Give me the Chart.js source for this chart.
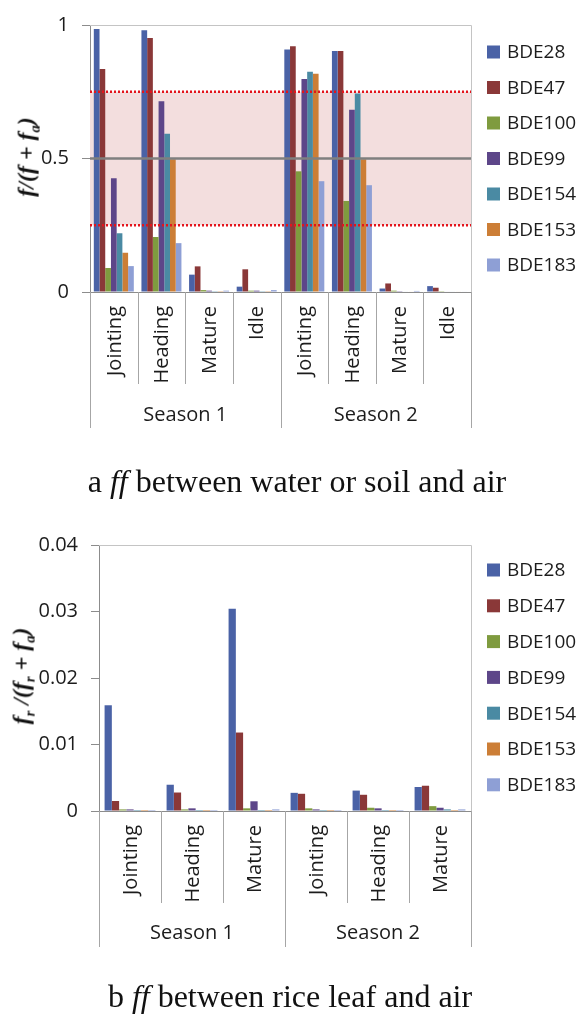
<!DOCTYPE html>
<html>
<head>
<meta charset="utf-8">
<script src="https://cdn.jsdelivr.net/npm/chart.js@4/dist/chart.umd.min.js"></script>
<style>
    body { margin: 0; width: 580px; height: 1014px; position: relative; background: #fff; overflow: hidden; }
    canvas { position: absolute; left: 0; }
    .caption { position: absolute; left: 0; width: 580px; text-align: center; font-family: "Liberation Serif", serif; font-size: 32px; line-height: 1; color: #111; }
    .ytitle { position: absolute; white-space: nowrap; font-family: "Liberation Serif", serif; font-weight: bold; font-style: italic; font-size: 24px; color: #111; transform: translate(-50%, -50%) rotate(-90deg); }
    .ytitle sub { font-size: 0.6em; }
</style>
</head>
<body>
<canvas id="chartA" width="580" height="470" style="top:0"></canvas>
<canvas id="chartB" width="580" height="494" style="top:520px"></canvas>

<div class="ytitle" style="left:28px; top:157px">f/(f + f<sub>a</sub>)</div>
<div class="ytitle" style="left:23px; top:676px">f<sub>r</sub> /(f<sub>r</sub> + f<sub>a</sub>)</div>

<div class="caption" style="top:465px; padding-left:14px; box-sizing:border-box">a <i>ff</i> between water or soil and air</div>
<div class="caption" style="top:980px">b <i>ff</i> between rice leaf and air</div>

<script>
// Categories
const seasons = ['Season 1', 'Season 2'];
const stagesA = ['Jointing', 'Heading', 'Mature', 'Idle', 'Jointing', 'Heading', 'Mature', 'Idle'];
const stagesB = ['Jointing', 'Heading', 'Mature', 'Jointing', 'Heading', 'Mature'];
const congeners = ['BDE28', 'BDE47', 'BDE100', 'BDE99', 'BDE154', 'BDE153', 'BDE183'];
const colors = ['#4a62a6', '#8a3838', '#7f9b3f', '#5d4689', '#4a8aa3', '#cc7e36', '#8e9fd5'];

// a: ff between water or soil and air
const bde28A  = [0.985, 0.980, 0.065, 0.020, 0.908, 0.903, 0.013, 0.022];
const bde47A  = [0.835, 0.951, 0.096, 0.085, 0.920, 0.903, 0.032, 0.016];
const bde100A = [0.090, 0.206, 0.007, 0.005, 0.452, 0.341, 0.005, 0.003];
const bde99A  = [0.426, 0.714, 0.005, 0.005, 0.798, 0.683, 0.003, 0.002];
const bde154A = [0.220, 0.593, 0.003, 0.003, 0.825, 0.743, 0.002, 0.002];
const bde153A = [0.147, 0.497, 0.003, 0.003, 0.817, 0.497, 0.002, 0.002];
const bde183A = [0.097, 0.183, 0.005, 0.007, 0.415, 0.400, 0.004, 0.002];

// b: ff between rice leaf and air
const bde28B  = [0.0159, 0.00395, 0.0304, 0.00273, 0.00307, 0.00361];
const bde47B  = [0.0015, 0.00278, 0.0118, 0.00259, 0.00244, 0.0038];
const bde100B = [0.00024, 0.00024, 0.0004, 0.0004, 0.00049, 0.00073];
const bde99B  = [0.00024, 0.0004, 0.00146, 0.00024, 0.0004, 0.00049];
const bde154B = [0.00015, 0.00015, 0.00015, 0.00015, 0.00015, 0.00024];
const bde153B = [0.00015, 0.00015, 0.00015, 0.00015, 0.00015, 0.00015];
const bde183B = [0.00015, 0.00015, 0.00024, 0.00015, 0.00015, 0.00024];

// y ticks
const ticksA = { max: 1, step: 0.5 };
const ticksB = { max: 0.04, step: 0.01 };

// reference band for chart a
const bandLow = 0.25;
const bandHigh = 0.75;
const midLine = 0.5;

const FONT = '"Open Sans", sans-serif';
const TEXT = '#1c1c1c';

// Pink band + dotted limits + mid line (chart a only)
const bandPlugin = {
    id: 'band',
    beforeDatasetsDraw(chart, args, opts) {
        if (!opts.show) return;
        const { ctx, chartArea } = chart;
        const y = chart.scales.y;
        ctx.save();
        ctx.fillStyle = '#f3dede';
        ctx.fillRect(chartArea.left, y.getPixelForValue(bandHigh), chartArea.right - chartArea.left,
            y.getPixelForValue(bandLow) - y.getPixelForValue(bandHigh));
        ctx.restore();
    },
    afterDatasetsDraw(chart, args, opts) {
        if (!opts.show) return;
        const { ctx, chartArea } = chart;
        const y = chart.scales.y;
        ctx.save();
        ctx.strokeStyle = '#e3141c';
        ctx.lineWidth = 2.5;
        ctx.setLineDash([2, 2]);
        [bandLow, bandHigh].forEach(v => {
            const py = y.getPixelForValue(v);
            ctx.beginPath();
            ctx.moveTo(chartArea.left, py);
            ctx.lineTo(chartArea.right, py);
            ctx.stroke();
        });
        ctx.setLineDash([]);
        ctx.strokeStyle = '#7f7f7f';
        const pm = y.getPixelForValue(midLine);
        ctx.beginPath();
        ctx.moveTo(chartArea.left, pm);
        ctx.lineTo(chartArea.right, pm);
        ctx.stroke();
        ctx.restore();
    }
};

// Two-level category axis, plot frame and legend
const frameplugin = {
    id: 'frame',
    afterDraw(chart, args, opts) {
        const { ctx, chartArea } = chart;
        const x = chart.scales.x;
        const labels = chart.data.labels;
        const n = labels.length;
        const half = (x.getPixelForValue(1) - x.getPixelForValue(0)) / 2;
        const bottom = chartArea.bottom;
        ctx.save();

        // frame top + right
        ctx.strokeStyle = '#c4c4c4';
        ctx.lineWidth = 1;
        ctx.beginPath();
        ctx.moveTo(chartArea.left, chartArea.top + 0.5);
        ctx.lineTo(chartArea.right + 0.5, chartArea.top + 0.5);
        ctx.lineTo(chartArea.right + 0.5, bottom);
        ctx.stroke();

        // x axis line
        ctx.strokeStyle = '#8c8c8c';
        ctx.beginPath();
        ctx.moveTo(chartArea.left, bottom + 0.5);
        ctx.lineTo(chartArea.right, bottom + 0.5);
        ctx.stroke();

        // separators
        ctx.strokeStyle = '#a6a6a6';
        for (let i = 0; i <= n; i++) {
            const px = Math.round(i < n ? x.getPixelForValue(i) - half : x.getPixelForValue(n - 1) + half) + 0.5;
            const isSeason = i % (n / seasons.length) === 0;
            ctx.beginPath();
            ctx.moveTo(px, bottom);
            ctx.lineTo(px, bottom + (isSeason ? 136 : 92));
            ctx.stroke();
        }

        // stage labels (rotated)
        ctx.fillStyle = TEXT;
        ctx.font = '20px ' + FONT;
        ctx.textAlign = 'right';
        ctx.textBaseline = 'middle';
        labels.forEach((lab, i) => {
            ctx.save();
            ctx.translate(x.getPixelForValue(i) + 1, bottom + 14);
            ctx.rotate(-Math.PI / 2);
            ctx.fillText(lab, 0, 0);
            ctx.restore();
        });

        // season labels
        ctx.textAlign = 'center';
        const per = n / seasons.length;
        seasons.forEach((s, k) => {
            const a = x.getPixelForValue(k * per) - half;
            const b = x.getPixelForValue(k * per + per - 1) + half;
            ctx.fillText(s, (a + b) / 2, bottom + opts.seasonY);
        });

        // legend
        ctx.textAlign = 'left';
        ctx.font = '19px ' + FONT;
        chart.data.datasets.forEach((ds, i) => {
            const cy = opts.legendTop + i * opts.legendStep;
            ctx.fillStyle = ds.backgroundColor;
            ctx.fillRect(487, cy - 6.5, 13, 13);
            ctx.fillStyle = TEXT;
            ctx.fillText(ds.label, 507, cy + 1);
        });
        ctx.restore();
    }
};

function makeChart(id, labels, series, yt, yWidth, padding, frameOpts, showBand, catPct) {
    const ctx = document.getElementById(id).getContext('2d');
    return new Chart(ctx, {
        type: 'bar',
        data: {
            labels: labels,
            datasets: series.map((d, i) => ({
                label: congeners[i],
                data: d,
                backgroundColor: colors[i],
                borderWidth: 0,
                barPercentage: 1,
                categoryPercentage: catPct
            }))
        },
        options: {
            responsive: false,
            animation: false,
            layout: { padding: padding },
            plugins: {
                legend: { display: false },
                tooltip: { enabled: false },
                band: { show: showBand },
                frame: frameOpts
            },
            scales: {
                x: { display: false },
                y: {
                    min: 0,
                    max: yt.max,
                    afterFit: s => { s.width = yWidth; },
                    afterBuildTicks: s => {
                        s.ticks = [];
                        for (let v = 0; v <= yt.max + 1e-9; v += yt.step) s.ticks.push({ value: +v.toFixed(4) });
                    },
                    ticks: {
                        color: TEXT,
                        font: { family: FONT, size: 20 },
                        padding: 13,
                        callback: v => String(+(+v).toFixed(4))
                    },
                    grid: { drawOnChartArea: false, color: '#8c8c8c', tickLength: 8 },
                    border: { color: '#8c8c8c' }
                }
            }
        },
        plugins: [bandPlugin, frameplugin]
    });
}

makeChart('chartA', stagesA,
    [bde28A, bde47A, bde100A, bde99A, bde154A, bde153A, bde183A],
    ticksA, 90, { top: 20, right: 109, bottom: 178, left: 0 },
    { seasonY: 123, legendTop: 52, legendStep: 35.5 }, true, 0.84);

makeChart('chartB', stagesB,
    [bde28B, bde47B, bde100B, bde99B, bde154B, bde153B, bde183B],
    ticksB, 99, { top: 18, right: 109, bottom: 203, left: 0 },
    { seasonY: 122, legendTop: 50, legendStep: 35.8 }, false, 0.82);
</script>
</body>
</html>
